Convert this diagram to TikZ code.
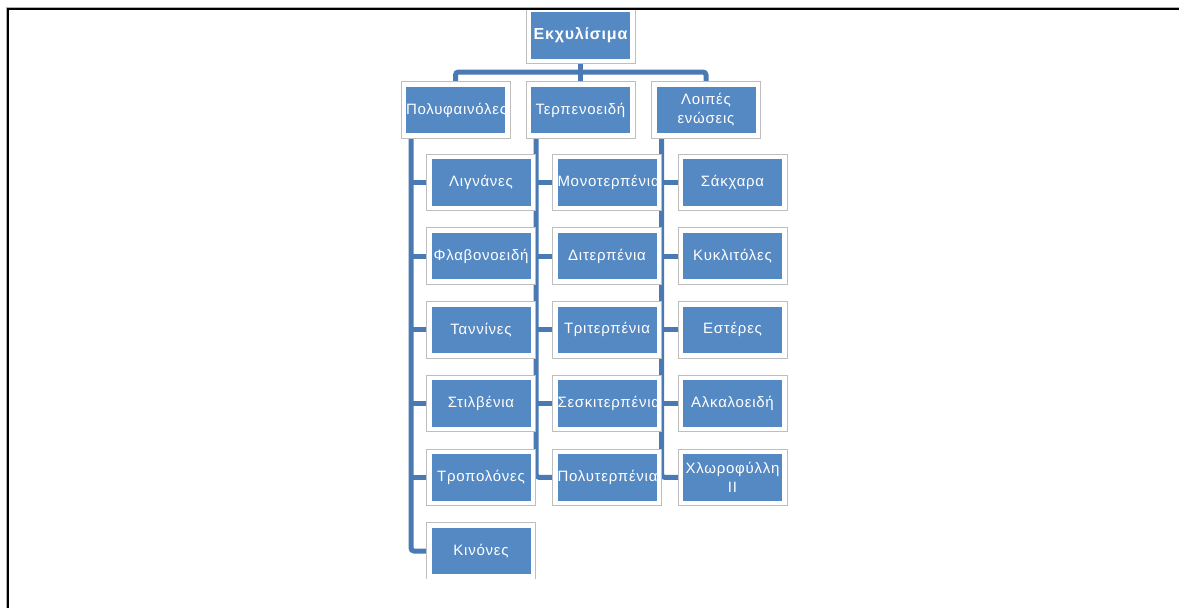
\documentclass[tikz,border=0pt]{standalone}
\usepackage{fontspec}
\setmainfont{Liberation Sans}
\newfontfamily\boxfont[LetterSpace=5]{Liberation Sans}
\usetikzlibrary{backgrounds}
\definecolor{boxblue}{RGB}{85,137,195}
\definecolor{linkblue}{RGB}{74,122,180}
\definecolor{rimgrey}{RGB}{190,190,190}
\tikzset{
  orgbox/.style={rectangle, fill=boxblue, draw=white, line width=4.5pt,
    preaction={draw=rimgrey, line width=6.5pt},
    text width=99pt, inner xsep=2.25pt, inner ysep=0pt,
    minimum width=103.5pt, minimum height=51pt,
    text=white, align=center,
    font={\boxfont\fontsize{15pt}{19pt}\selectfont\hyphenpenalty=10000}},
  titlebox/.style={orgbox, font={\boxfont\bfseries\fontsize{16pt}{19pt}\selectfont}},
  link/.style={draw=linkblue, line width=5pt, rounded corners=3pt},
}
\begin{document}
\begin{tikzpicture}[x=1pt, y=-1pt]
\useasboundingbox (0,0) rectangle (1179,608);

\begin{scope}
  \clip (0,0) rectangle (1179,578);
  % root
  \node[titlebox] (top) at (580.5,35.5) {Εκχυλίσιμα};
  % second level
  \node[orgbox] (p1) at (455.5,110) {Πολυφαινόλες};
  \node[orgbox] (p2) at (580.5,110) {Τερπενοειδή};
  \node[orgbox] (p3) at (706,110) {Λοιπές\\ενώσεις};
  % polyphenols
  \node[orgbox] (c11) at (481,182.5) {Λιγνάνες};
  \node[orgbox] (c12) at (481,256.2) {Φλαβονοειδή};
  \node[orgbox] (c13) at (481,329.9) {Ταννίνες};
  \node[orgbox] (c14) at (481,403.6) {Στιλβένια};
  \node[orgbox] (c15) at (481,477.3) {Τροπολόνες};
  \node[orgbox] (c16) at (481,551) {Κινόνες};
  % terpenoids
  \node[orgbox] (c21) at (607,182.5) {Μονοτερπένια};
  \node[orgbox] (c22) at (607,256.2) {Διτερπένια};
  \node[orgbox] (c23) at (607,329.9) {Τριτερπένια};
  \node[orgbox] (c24) at (607,403.6) {Σεσκιτερπένια};
  \node[orgbox] (c25) at (607,477.3) {Πολυτερπένια};
  % other compounds
  \node[orgbox] (c31) at (732.5,182.5) {Σάκχαρα};
  \node[orgbox] (c32) at (732.5,256.2) {Κυκλιτόλες};
  \node[orgbox] (c33) at (732.5,329.9) {Εστέρες};
  \node[orgbox] (c34) at (732.5,403.6) {Αλκαλοειδή};
  \node[orgbox] (c35) at (732.5,477.3) {Χλωροφύλλη\\ΙΙ};
\end{scope}

\begin{scope}[on background layer]
  % bus under the root
  \coordinate (bus) at (0,72);
  \draw[link] (p1.north) -- (p1.north |- bus) -- (p3.north |- bus) -- (p3.north);
  \draw[link] (top.south) -- (p2.north);
  % column spines
  \coordinate (v1) at ([xshift=9.5pt]p1.south west);
  \coordinate (v2) at ([xshift=9.5pt]p2.south west);
  \coordinate (v3) at ([xshift=9.5pt]p3.south west);
  \draw[link] (v1) |- (c16.west);
  \draw[link] (v2) |- (c25.west);
  \draw[link] (v3) |- (c35.west);
  \foreach \c in {c11,c12,c13,c14,c15} \draw[link] (\c.west -| v1) -- (\c.west);
  \foreach \c in {c21,c22,c23,c24} \draw[link] (\c.west -| v2) -- (\c.west);
  \foreach \c in {c31,c32,c33,c34} \draw[link] (\c.west -| v3) -- (\c.west);
\end{scope}

% page frame
\draw[gray!60, line width=1pt] (6,609) -- (6,7) -- (1180,7);
\draw[black, line width=2pt] (8,609) -- (8,9) -- (1180,9);
\end{tikzpicture}
\end{document}
